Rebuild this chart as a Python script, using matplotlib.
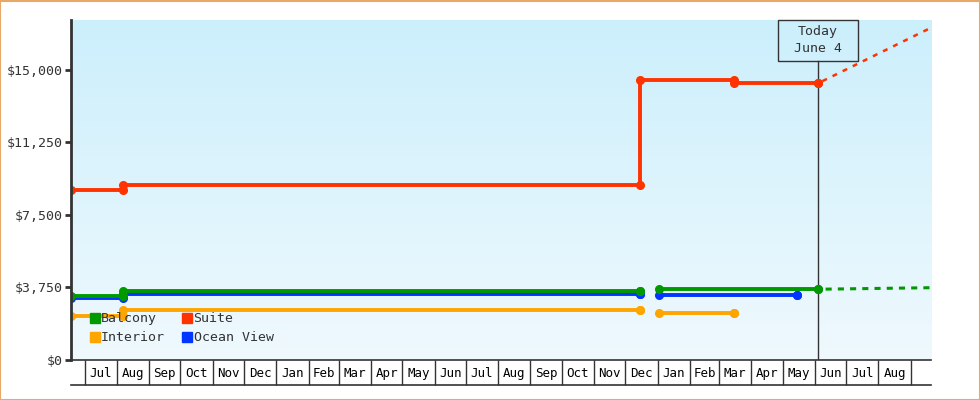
import matplotlib.pyplot as plt
import matplotlib.dates as mdates
import matplotlib.transforms as mtransforms
from matplotlib.lines import Line2D
from matplotlib.patches import Rectangle
import numpy as np
import pandas as pd

# price history per cabin type, each list holds runs of dates (gap over new year)
balcony_dates = [['2015-06-18', '2015-08-07', '2016-12-15'], ['2017-01-02', '2017-06-04']]
balcony_prices = [[3300, 3550, 3550], [3670, 3660]]
suite_dates = [['2015-06-18', '2015-08-07', '2016-12-15', '2017-03-15', '2017-06-04']]
suite_prices = [[8780, 9050, 14470, 14310, 14310]]
interior_dates = [['2015-06-18', '2015-08-07', '2016-12-15'], ['2017-01-02', '2017-03-15']]
interior_prices = [[2290, 2570, 2570], [2415, 2415]]
ocean_dates = [['2015-06-18', '2015-08-07', '2016-12-15'], ['2017-01-02', '2017-05-15']]
ocean_prices = [[3200, 3430, 3430], [3380, 3380]]

# projections past today
suite_proj_dates = ['2017-06-04', '2017-09-21']
suite_proj_prices = [14310, 17200]
balcony_proj_dates = ['2017-06-04', '2017-09-21']
balcony_proj_prices = [3660, 3740]

today = '2017-06-04'
today_label = 'Today\nJune 4'
y_ticks = [0, 3750, 7500, 11250, 15000]
x_start = '2015-06-18'
x_end = '2017-09-20 12:00'

GREEN = '#009a00'
RED = '#ff3300'
ORANGE = '#ffa500'
BLUE = '#0036ff'
INK = '#333333'

plt.rcParams['font.family'] = ['DejaVu Sans Mono']


# turns price change dates into a step path (vertical jump at the change date)
def step_xy(dates, prices):
  d = pd.to_datetime(dates)
  xs = [d[0]]
  ys = [prices[0]]
  for i in range(1, len(d)):
    xs.append(d[i])
    ys.append(prices[i - 1])
    xs.append(d[i])
    ys.append(prices[i])
  return mdates.date2num(xs), ys


fig = plt.figure(figsize=(9.8, 4.0), dpi=100)
ax = fig.add_axes([71 / 980, 40 / 400, 860 / 980, 340 / 400])

# light blue gradient behind the plot
grad = np.linspace(0, 1, 256).reshape(-1, 1)
top = np.array([204, 239, 252]) / 255
bottom = np.array([239, 249, 254]) / 255
img = top + (bottom - top) * grad[:, :, None]
ax.imshow(img, extent=[0, 1, 0, 1], transform=ax.transAxes, aspect='auto', zorder=0)

series = [
  ('Ocean View', ocean_dates, ocean_prices, BLUE),
  ('Interior', interior_dates, interior_prices, ORANGE),
  ('Balcony', balcony_dates, balcony_prices, GREEN),
  ('Suite', suite_dates, suite_prices, RED),
]
for name, dates, prices, color in series:
  for seg_d, seg_p in zip(dates, prices):
    xs, ys = step_xy(seg_d, seg_p)
    ax.plot(xs, ys, color=color, lw=2.8, marker='o', ms=5.5, zorder=3,
            solid_capstyle='butt')

ax.plot(mdates.date2num(pd.to_datetime(suite_proj_dates)), suite_proj_prices,
        color=RED, lw=1.8, linestyle=(2.5, (2, 2.5)), zorder=3)
ax.plot(mdates.date2num(pd.to_datetime(balcony_proj_dates)), balcony_proj_prices,
        color=GREEN, lw=2.2, linestyle=(1.5, (2, 2)), zorder=3)

x0 = mdates.date2num(pd.Timestamp(x_start))
x1 = mdates.date2num(pd.Timestamp(x_end))
ax.set_xlim(x0, x1)
ax.set_ylim(0, 17586)

# today marker with its box
t = mdates.date2num(pd.Timestamp(today))
ax.axvline(t, ymin=0, ymax=0.88, color=INK, lw=1, zorder=2)
trans = mtransforms.blended_transform_factory(ax.transData, ax.transAxes)
ax.add_patch(Rectangle((t - 38.3, 0.88), 76.6, 0.12, transform=trans,
                       facecolor='none', edgecolor=INK, lw=1, zorder=4, clip_on=False))
ax.text(t, 0.94, today_label, transform=trans, ha='center', va='center',
        fontsize=9.5, color=INK, linespacing=1.4, zorder=5)

# y axis
ax.set_yticks(y_ticks)
ax.set_yticklabels(['${:,}'.format(v) for v in y_ticks])
ax.tick_params(axis='y', direction='out', length=4, width=2, color=INK,
               labelcolor=INK, labelsize=9.5, pad=2)

# x axis: month boxes below the axis
month_starts = pd.date_range('2015-07-01', '2017-09-01', freq='MS')
mids = month_starts[:-1] + pd.to_timedelta(month_starts.days_in_month[:-1] / 2, unit='D')
ax.set_xticks(mdates.date2num(month_starts))
ax.set_xticklabels([])
ax.set_xticks(mdates.date2num(mids), minor=True)
ax.set_xticklabels([m.strftime('%b') for m in month_starts[:-1]], minor=True)
ax.tick_params(axis='x', which='major', direction='out', length=18, width=1, color=INK)
ax.tick_params(axis='x', which='minor', length=0, labelsize=9, labelcolor='black', pad=5)
ax.add_line(Line2D([0, 1], [-25 / 340, -25 / 340], transform=ax.transAxes,
                   color=INK, lw=1.2, clip_on=False))

for side in ['top', 'right']:
  ax.spines[side].set_visible(False)
ax.spines['left'].set_linewidth(2)
ax.spines['left'].set_color(INK)
ax.spines['bottom'].set_linewidth(1.2)
ax.spines['bottom'].set_color(INK)
ax.spines['left'].set_zorder(6)

# legend squares in the lower left corner
handles = [Line2D([], [], marker='s', ms=7, lw=0, color=c) for c in [GREEN, ORANGE, RED, BLUE]]
leg = ax.legend(handles, ['Balcony', 'Interior', 'Suite', 'Ocean View'], ncol=2,
                loc='upper left', bbox_to_anchor=(0.022, 0.14), frameon=False,
                handlelength=0.7, handletextpad=0.15, columnspacing=1.3,
                labelspacing=0.45, fontsize=9.5, borderpad=0, borderaxespad=0)
for txt in leg.get_texts():
  txt.set_color(INK)

# thin border around the whole image
fig.patches.append(Rectangle((0.0005, 0.001), 0.999, 0.9975, transform=fig.transFigure,
                             facecolor='none', edgecolor='#e7a868', lw=1.5))

plt.savefig('out.png', dpi=100)
